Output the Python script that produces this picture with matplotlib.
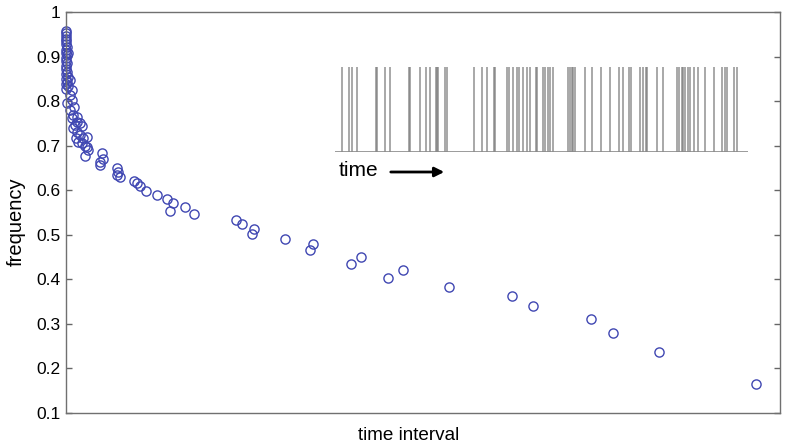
import matplotlib
matplotlib.use("Agg")
import matplotlib.pyplot as plt

plt.rcParams['font.family'] = ['Liberation Sans', 'DejaVu Sans']

# time interval (arbitrary units, 0..100 across axis) and frequency
interval = [0.0, 0.05, 0.0, 0.05, 0.0, 0.05, 0.1, 0.05, 0.0, 0.1, 0.05, 0.0, 0.1, 0.05,
            0.0, 0.1, 0.05, 0.3, 0.05, 0.1, 0.0, 0.3, 0.05,
            0.3, 0.6, 0.8, 0.6, 0.8, 0.1, 1.1, 0.6, 1.0, 0.8, 1.5, 1.5, 2.0, 1.3, 1.0,
            2.2, 1.5, 2.0, 2.4, 1.4, 2.9, 1.7, 2.2, 2.7, 2.9, 3.1, 2.7,
            5.0, 5.2, 4.8, 4.8, 7.1, 7.3, 7.1, 7.6, 9.5, 9.9, 10.4, 11.2, 12.7, 14.1,
            15.0, 14.6, 16.7, 17.9, 23.8, 24.6, 26.3, 26.0, 30.7, 34.6, 34.2, 39.9,
            41.3, 45.1, 47.2, 53.6, 62.4, 65.4, 73.5, 76.6, 83.0, 96.7]
frequency = [0.957, 0.952, 0.946, 0.940, 0.934, 0.928, 0.921, 0.915, 0.909, 0.903, 0.897,
             0.891, 0.885, 0.879, 0.872, 0.866, 0.860, 0.855, 0.849, 0.843, 0.838, 0.833,
             0.828,
             0.908, 0.848, 0.825, 0.814, 0.803, 0.796, 0.787, 0.780, 0.769, 0.762, 0.765,
             0.753, 0.751, 0.747, 0.740, 0.745, 0.731, 0.724, 0.717, 0.717, 0.720, 0.709,
             0.706, 0.700, 0.698, 0.690, 0.677,
             0.684, 0.670, 0.664, 0.657, 0.650, 0.641, 0.634, 0.630, 0.621, 0.616, 0.610,
             0.599, 0.590, 0.581, 0.572, 0.554, 0.563, 0.547, 0.534, 0.525, 0.514, 0.502,
             0.491, 0.480, 0.466, 0.435, 0.451, 0.404, 0.422, 0.383, 0.363, 0.341, 0.312,
             0.280, 0.237, 0.165]

yticks = [0.1, 0.2, 0.3, 0.4, 0.5, 0.6, 0.7, 0.8, 0.9, 1]
ytick_labels = ['0.1', '0.2', '0.3', '0.4', '0.5', '0.6', '0.7', '0.8', '0.9', '1']

# spike train in the inset (arbitrary time units)
spikes = [6.7, 14, 16.7, 22.3, 40.7, 41.7, 50, 55, 74, 74.6, 85, 91, 95, 101, 102, 102.6,
          110, 111.7, 139, 146.7, 151.7, 159, 160, 171.7, 174, 178.3, 181.7, 184.3,
          187.7, 191.7, 195, 200.7, 202.3, 208.3, 215, 210, 213.3, 218.3, 233.3, 235,
          236.7, 238.3, 240, 250, 256.7, 266, 275, 284, 288.3, 294.3, 295.7, 305, 307.7,
          311, 312.3, 322.3, 328.3, 341.7, 344.3, 346.7, 348.3, 350, 353.3, 355, 359,
          363.3, 370, 379, 386.7, 390, 391.7, 399.3, 401.7]

fig = plt.figure(figsize=(7.91, 4.47), dpi=100)
ax = fig.add_axes([66/791, 1-413/447, (780-66)/791, (413-12)/447])

ax.plot(interval, frequency, linestyle='none', marker='o', markersize=6.6,
        markerfacecolor='none', markeredgecolor='#4047b2', markeredgewidth=1.0,
        clip_on=False)
ax.set_xlim(0, 100)
ax.set_ylim(0.1, 1.0)
ax.set_yticks(yticks)
ax.set_yticklabels(ytick_labels)
ax.set_xticks([])
ax.tick_params(axis='y', direction='in', length=4, width=1, color='#666666',
               right=True, labelsize=12.5, pad=4)
for s in ax.spines.values():
    s.set_color('#707070')
    s.set_linewidth(1.0)
ax.set_ylabel('frequency', fontsize=14.5)
ax.set_xlabel('time interval', fontsize=13.6)
ax.yaxis.set_label_coords(-0.057, 0.476)
ax.xaxis.set_label_coords(0.48, -0.035)

# inset raster
ins = fig.add_axes([335/791, 1-152/447, (748-335)/791, (152-67)/447])
ins.vlines(spikes, 0, 1, colors='#7a7a7a', linewidth=1.3, alpha=0.7)
ins.axhline(0, color='#8a8a8a', linewidth=1.2)
ins.set_xlim(0, 413)
ins.set_ylim(0, 1)
ins.axis('off')

fig.text(339/791, 1-171/447, 'time', fontsize=15, va='center', ha='left')
fig.add_artist(matplotlib.patches.FancyArrowPatch(
    (388/791, 1-172/447), (447/791, 1-172/447), transform=fig.transFigure,
    arrowstyle='-|>', mutation_scale=14, color='black', linewidth=2.0))

fig.savefig('out.png', dpi=100)
